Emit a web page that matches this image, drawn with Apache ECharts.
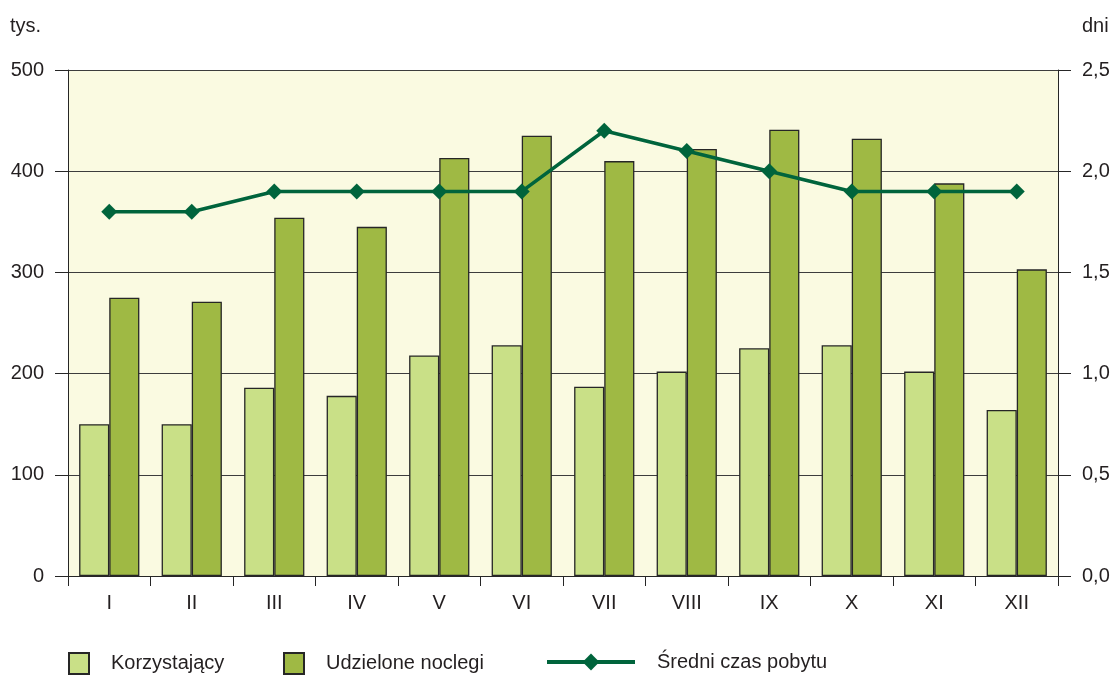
<!DOCTYPE html>
<html>
<head>
<meta charset="utf-8">
<script src="https://cdn.jsdelivr.net/npm/echarts@6/dist/echarts.min.js"></script>
<style>
  html, body { margin: 0; padding: 0; background: #fff; }
  #chart { width: 1114px; height: 675px; }
</style>
</head>
<body>
<div id="chart"></div>
<script>
// miesiące
const months = ['I', 'II', 'III', 'IV', 'V', 'VI', 'VII', 'VIII', 'IX', 'X', 'XI', 'XII']
// tys.
const korzystajacy = [150, 150, 186, 178, 218, 228, 187, 202, 225, 228, 202, 164]
const noclegi = [275, 271, 354, 345, 413, 435, 410, 422, 441, 432, 388, 303]
// dni
const sredniCzas = [1.8, 1.8, 1.9, 1.9, 1.9, 1.9, 2.2, 2.1, 2.0, 1.9, 1.9, 1.9]

const FONT = 'Liberation Sans, Arial, sans-serif'
const TEXT = '#231f20'
const BORDER = '#262626'
const LINE = '#00643c'

const chart = echarts.init(document.getElementById('chart'))

const legendBase = {
  top: 652,
  padding: 0,
  itemWidth: 20,
  itemHeight: 21,
  icon: 'rect',
  textStyle: { fontSize: 20, color: TEXT, fontFamily: FONT, padding: [0, 0, 0, 17] },
  selectedMode: false,
}

chart.setOption({
  animation: false,
  grid: {
    left: 68,
    right: 56,
    top: 70,
    bottom: 99,
    show: true,
    backgroundColor: '#fafae1',
    borderWidth: 0,
  },
  legend: [
    { ...legendBase, left: 68, data: ['Korzystający'] },
    { ...legendBase, left: 283, data: ['Udzielone noclegi'] },
    {
      ...legendBase,
      left: 545,
      icon: null,
      itemWidth: 88,
      itemHeight: 21,
      data: [{ name: 'Średni czas pobytu', lineStyle: { width: 4 } }],
    },
  ],
  graphic: [
    {
      type: 'text', left: 10, top: 16,
      style: { text: 'tys.', fontSize: 20, fill: TEXT, fontFamily: FONT },
    },
    {
      type: 'text', left: 1082, top: 16,
      style: { text: 'dni', fontSize: 20, fill: TEXT, fontFamily: FONT },
    },
  ],
  xAxis: {
    type: 'category',
    data: months,
    axisLine: { lineStyle: { color: BORDER, width: 1 } },
    axisTick: { show: true, length: 10, lineStyle: { color: BORDER } },
    axisLabel: { color: TEXT, fontSize: 20, fontFamily: FONT, margin: 17 },
  },
  yAxis: [
    {
      type: 'value',
      min: 0,
      max: 500,
      interval: 100,
      axisLine: { show: true, lineStyle: { color: BORDER } },
      axisTick: { show: true, length: 13, lineStyle: { color: BORDER } },
      axisLabel: { color: TEXT, fontSize: 20, fontFamily: FONT, margin: 24 },
      splitLine: { lineStyle: { color: '#3c3c3c', width: 1 } },
    },
    {
      type: 'value',
      min: 0,
      max: 2.5,
      interval: 0.5,
      position: 'right',
      axisLine: { show: true, lineStyle: { color: BORDER } },
      axisTick: { show: true, length: 13, lineStyle: { color: BORDER } },
      axisLabel: {
        color: TEXT, fontSize: 20, fontFamily: FONT, margin: 24,
        formatter: (v) => v.toFixed(1).replace('.', ','),
      },
      splitLine: { show: false },
    },
  ],
  series: [
    {
      name: 'Korzystający',
      type: 'bar',
      data: korzystajacy,
      barGap: '0%',
      barCategoryGap: '27%',
      itemStyle: { color: '#c9e087', borderColor: BORDER, borderWidth: 1.3 },
    },
    {
      name: 'Udzielone noclegi',
      type: 'bar',
      data: noclegi,
      itemStyle: { color: '#9fb944', borderColor: BORDER, borderWidth: 1.3 },
    },
    {
      name: 'Średni czas pobytu',
      type: 'line',
      yAxisIndex: 1,
      data: sredniCzas,
      symbol: 'diamond',
      symbolSize: 16,
      lineStyle: { color: LINE, width: 3.5 },
      itemStyle: { color: LINE },
      z: 5,
    },
  ],
})
</script>
</body>
</html>
